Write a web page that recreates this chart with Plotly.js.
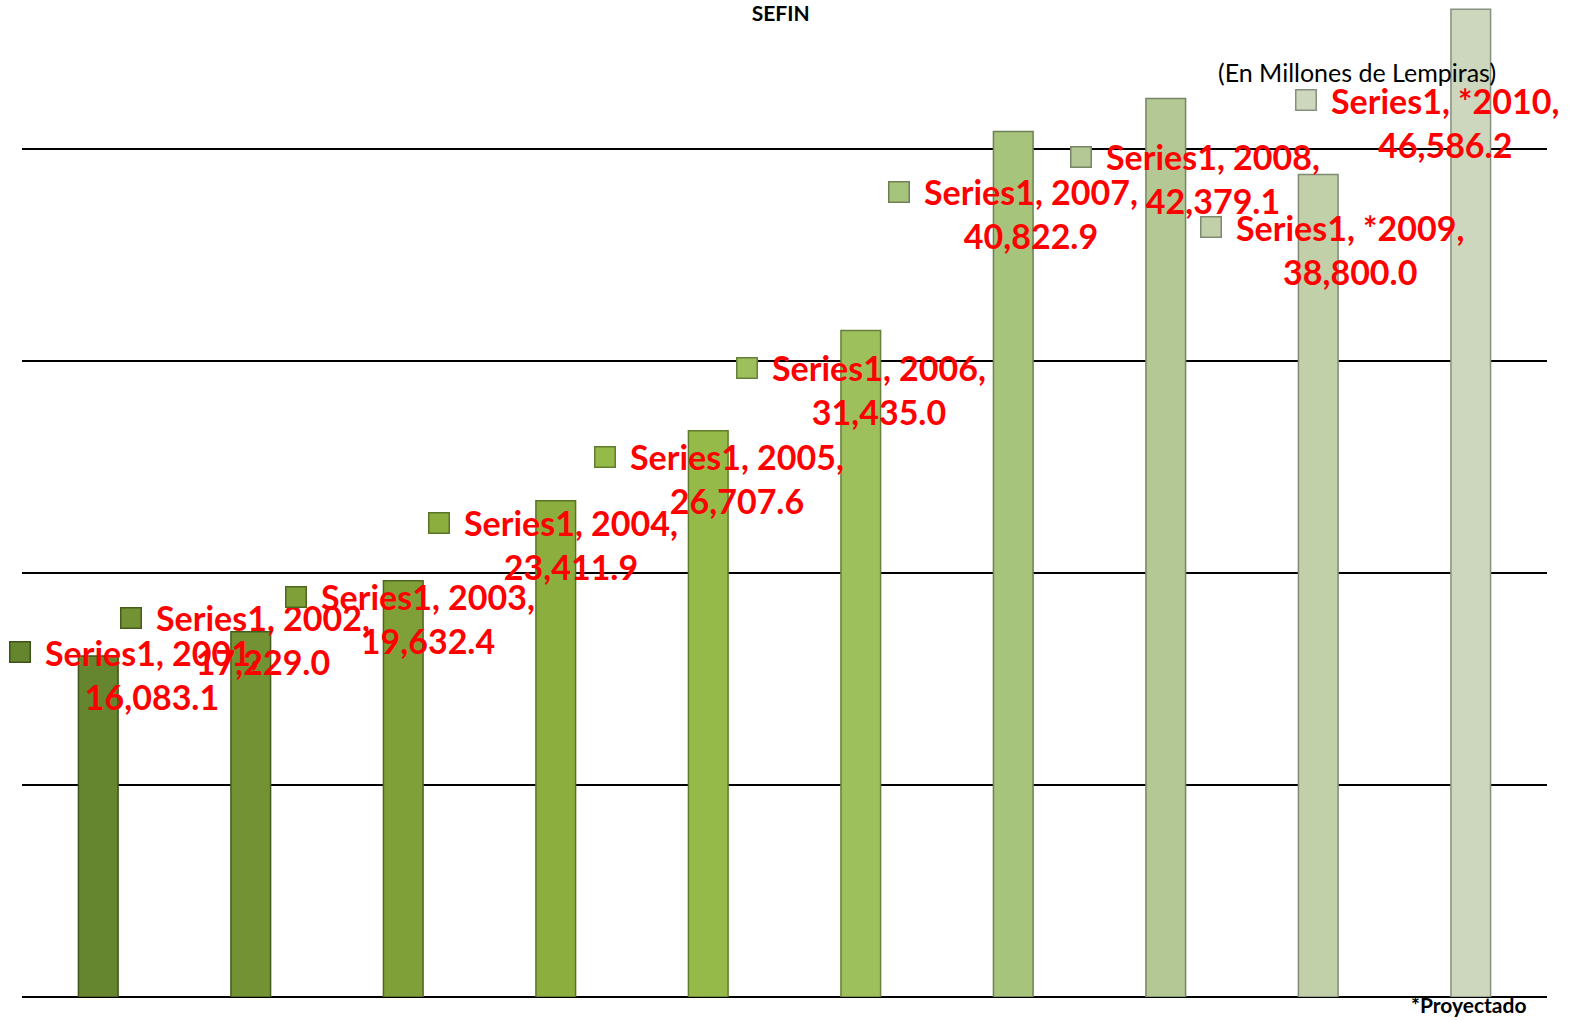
<!DOCTYPE html>
<html>
<head>
<meta charset="utf-8">
<script src="https://cdn.plot.ly/plotly-3.0.1.min.js"></script>
<style>html,body{margin:0;padding:0;background:#fff;}#chart{width:1574px;height:1020px;}</style>
</head>
<body>
<div id="chart"></div>
<script>
// ---- data ----
const categories = ["2001","2002","2003","2004","2005","2006","2007","2008","*2009","*2010"];
const seriesName = "Series1";
const values = [16083.1, 17229.0, 19632.4, 23411.9, 26707.6, 31435.0, 40822.9, 42379.1, 38800.0, 46586.2];

// ---- styles / label placement (pixels) ----
const barColors = ["#65852e","#729233","#7fa038","#8bae3f","#95ba4a","#9dc05c","#a6c47c","#b3c894","#c1d0a9","#ccd7bd"];
const barLines  = ["#3f5419","#465c1c","#4f661f","#5a7326","#607c2c","#687f3c","#6e8052","#778566","#808a73","#878f7e"];
const labelDx = [54, 12, 25, 15, 29, 18, 18, 47, 32, -26];
const labelDy = [-18, -8, -38, -44, -48, -59, -82, -80, -75, -113];

const labelFont = "Lato";
const labelSize = 34;
const cv = document.createElement("canvas").getContext("2d");
cv.font = "bold " + labelSize + "px " + labelFont;

const fmt = v => v.toLocaleString("en-US", {minimumFractionDigits: 1, maximumFractionDigits: 1});

const annotations = [];
categories.forEach((c, i) => {
  const line1 = seriesName + ", " + c + ",";
  annotations.push({
    x: i, y: values[i], xref: "x", yref: "y",
    text: line1 + "<br>" + fmt(values[i]),
    showarrow: false, xanchor: "center", yanchor: "middle", align: "center",
    xshift: labelDx[i], yshift: labelDy[i],
    font: {family: labelFont, size: labelSize, color: "#ff0000", weight: "bold"}
  });
  const w = cv.measureText(line1).width;
  annotations.push({
    x: i, y: values[i], xref: "x", yref: "y",
    text: " ", width: 19, height: 19, showarrow: false,
    xanchor: "center", yanchor: "middle",
    xshift: labelDx[i] - w / 2 - 25, yshift: labelDy[i] + 22,
    bgcolor: barColors[i], bordercolor: barLines[i], borderwidth: 1.5, borderpad: 0,
    font: {size: 4}
  });
});

annotations.push({
  xref: "paper", yref: "paper", x: 0.8754, y: 0.9278,
  text: "(En Millones de Lempiras)", showarrow: false,
  xanchor: "center", yanchor: "middle",
  font: {family: "Lato", size: 25, color: "#000"}
});
annotations.push({
  xref: "paper", yref: "paper", x: 0.9489, y: -0.008,
  text: "*Proyectado", showarrow: false,
  xanchor: "center", yanchor: "middle",
  font: {family: "Lato", size: 21, color: "#000", weight: "bold"}
});

const trace = {
  type: "bar",
  x: categories,
  y: values,
  name: seriesName,
  width: 0.26,
  marker: {color: barColors, line: {color: barLines, width: 1.5}},
  hoverinfo: "x+y"
};

const layout = {
  width: 1574, height: 1020,
  margin: {l: 22, r: 27, t: 0, b: 23, pad: 0},
  paper_bgcolor: "#fff", plot_bgcolor: "#fff",
  showlegend: false,
  title: {
    text: "SEFIN", x: 0.4975, xref: "paper", y: 1 - 14 / 1020, yref: "container",
    xanchor: "center", yanchor: "middle",
    font: {family: "Lato", size: 21, color: "#000", weight: "bold"}
  },
  xaxis: {type: "category", range: [-0.5, 9.5], autorange: false, showticklabels: false, showgrid: false, zeroline: false, showline: false, ticks: ""},
  yaxis: {
    range: [0, 47028], autorange: false, dtick: 10000, tick0: 0,
    showticklabels: false, ticks: "",
    showgrid: true, gridcolor: "#000", gridwidth: 2,
    zeroline: true, zerolinecolor: "#000", zerolinewidth: 2, showline: false
  },
  annotations: annotations
};

Plotly.newPlot("chart", [trace], layout, {displayModeBar: false, staticPlot: true});
</script>
</body>
</html>
